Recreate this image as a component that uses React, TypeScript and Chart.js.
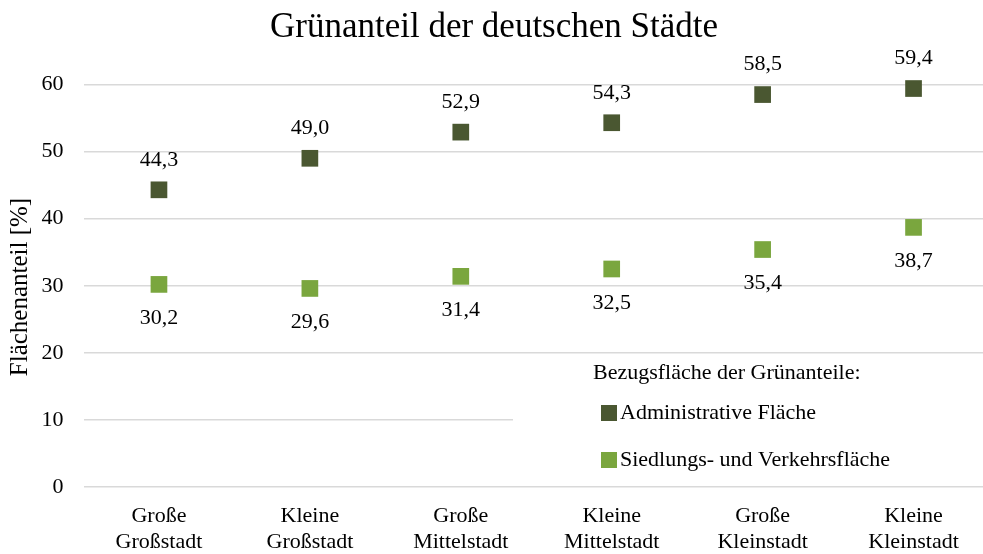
import React, { useEffect, useRef } from "react";
import { Chart, registerables } from "chart.js";

Chart.register(...registerables);

const categories: string[][] = [
  ["Große", "Großstadt"],
  ["Kleine", "Großstadt"],
  ["Große", "Mittelstadt"],
  ["Kleine", "Mittelstadt"],
  ["Große", "Kleinstadt"],
  ["Kleine", "Kleinstadt"],
];
const administrative: number[] = [44.3, 49.0, 52.9, 54.3, 58.5, 59.4];
const siedlung: number[] = [30.2, 29.6, 31.4, 32.5, 35.4, 38.7];
const seriesNames: string[] = ["Administrative Fläche", "Siedlungs- und Verkehrsfläche"];
const legendTitle = "Bezugsfläche der Grünanteile:";
const chartTitle = "Grünanteil der deutschen Städte";
const yTitle = "Flächenanteil [%]";

const DARK = "#4A5731";
const LIGHT = "#7AA63E";
const FONT = "'Liberation Serif', 'Times New Roman', serif";

const fmt = (v: number) => v.toFixed(1).replace(".", ",");

const overlayPlugin = {
  id: "overlay",
  afterDatasetsDraw(chart: any) {
    const ctx = chart.ctx;
    ctx.save();
    ctx.font = `22px ${FONT}`;
    ctx.fillStyle = "#000";
    ctx.textAlign = "center";
    ctx.textBaseline = "middle";
    chart.data.datasets.forEach((ds: any, di: number) => {
      const meta = chart.getDatasetMeta(di);
      meta.data.forEach((pt: any, i: number) => {
        const off = di === 0 ? -30 : 34;
        ctx.fillText(fmt(ds.data[i]), pt.x, pt.y + off);
      });
    });
    ctx.font = `35px ${FONT}`;
    ctx.textBaseline = "alphabetic";
    ctx.fillText(chartTitle, 494, 37);
    ctx.save();
    ctx.translate(20.5, 287);
    ctx.rotate(-Math.PI / 2);
    ctx.textBaseline = "middle";
    ctx.font = `25px ${FONT}`;
    ctx.fillText(yTitle, 0, 0);
    ctx.restore();
    ctx.textBaseline = "middle";
    ctx.fillStyle = "#fff";
    ctx.fillRect(513, 360, 480, 122);
    ctx.fillStyle = "#000";
    ctx.textAlign = "left";
    ctx.font = `22px ${FONT}`;
    ctx.fillText(legendTitle, 593, 373);
    const colors = [DARK, LIGHT];
    const ys = [413, 460];
    seriesNames.forEach((n, i) => {
      ctx.fillStyle = colors[i];
      ctx.fillRect(601, ys[i] - 8, 16, 16);
      ctx.fillStyle = "#000";
      ctx.fillText(n, 620, ys[i]);
    });
    ctx.restore();
  },
};

export default function App() {
  const ref = useRef<HTMLCanvasElement>(null);
  useEffect(() => {
    if (!ref.current) return;
    const chart = new Chart(ref.current, {
      type: "line",
      data: {
        labels: categories as any,
        datasets: [
          {
            label: seriesNames[0],
            data: administrative,
            showLine: false,
            clip: false as any,
            pointStyle: "rect",
            pointRadius: 11.8,
            pointBackgroundColor: DARK,
            pointBorderColor: DARK,
            pointBorderWidth: 0,
            backgroundColor: DARK,
            borderColor: DARK,
          },
          {
            label: seriesNames[1],
            data: siedlung,
            showLine: false,
            clip: false as any,
            pointStyle: "rect",
            pointRadius: 11.8,
            pointBackgroundColor: LIGHT,
            pointBorderColor: LIGHT,
            pointBorderWidth: 0,
            backgroundColor: LIGHT,
            borderColor: LIGHT,
          },
        ],
      },
      options: {
        responsive: false,
        animation: false,
        devicePixelRatio: 1,
        layout: { autoPadding: false, padding: { top: 84.5, left: 0, right: 0, bottom: 0 } },
        plugins: {
          legend: { display: false },
          title: { display: false },
          tooltip: { enabled: false },
        },
        scales: {
          x: {
            type: "category",
            offset: true,
            grid: { display: false, drawTicks: false },
            border: { display: false },
            ticks: {
              color: "#000",
              font: { family: FONT, size: 22, lineHeight: 1.15 },
              padding: 17,
              maxRotation: 0,
              autoSkip: false,
            },
            afterFit: (s: any) => {
              s.height = 67;
              s.paddingLeft = 0;
              s.paddingRight = 0;
            },
          },
          y: {
            min: 0,
            max: 60,
            ticks: {
              stepSize: 10,
              color: "#000",
              font: { family: FONT, size: 22 },
              padding: 20,
            },
            grid: { color: "#d9d9d9", lineWidth: 1.5, drawTicks: false },
            border: { display: false },
            afterFit: (s: any) => {
              s.width = 83.5;
              s.paddingTop = 0;
              s.paddingBottom = 0;
            },
          },
        },
      },
      plugins: [overlayPlugin],
    });
    return () => chart.destroy();
  }, []);
  return (
    <div style={{ position: "fixed", left: 0, top: 0, width: 983, height: 554, overflow: "hidden", background: "#fff" }}>
      <canvas ref={ref} width={989} height={554} style={{ display: "block", width: 989, height: 554 }} />
    </div>
  );
}
